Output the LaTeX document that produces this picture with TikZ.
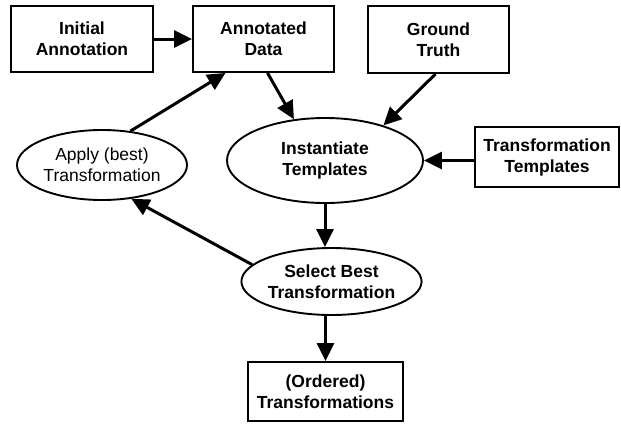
\documentclass[tikz,border=0pt]{standalone}
\usepackage{fontspec}
\setmainfont{Liberation Sans}
\usetikzlibrary{arrows.meta,shapes.geometric}
\begin{document}
\begin{tikzpicture}[x=1pt,y=-1pt,
  every node/.style={font=\fontsize{17.5}{21}\selectfont\bfseries, align=center, line width=1.9pt, inner sep=0pt},
  box/.style={draw, rectangle},
  oval/.style={draw, ellipse},
  flow/.style={line width=3pt, -{Triangle[length=18pt,width=17pt]}}]
\useasboundingbox (0,0) rectangle (621,423);

\node[box, minimum width=142pt, minimum height=66pt] (init) at (82,39) {Initial\\Annotation};
\node[box, minimum width=141pt, minimum height=66pt] (ann) at (263.5,39) {Annotated\\Data};
\node[box, minimum width=141pt, minimum height=67pt] (gt) at (438.5,39.5) {Ground\\Truth};
\node[box, minimum width=144pt, minimum height=60pt] (tt) at (547,157) {Transformation\\Templates};
\node[oval, minimum width=196pt, minimum height=85pt] (inst) at (325,160.5) {Instantiate\\Templates};
\node[oval, minimum width=170pt, minimum height=70pt, font=\fontsize{17.5}{21}\selectfont] (apply) at (102,165) {Apply (best)\\Transformation};
\node[oval, minimum width=169pt, minimum height=67pt] (sel) at (331.5,281.5) {Select Best\\Transformation};
\node[box, minimum width=155pt, minimum height=59pt] (ord) at (325.5,391.5) {(Ordered)\\Transformations};

\draw[flow] (init) -- (ann);
\draw[flow] (apply.50) -- ([xshift=-38pt]ann.south);
\draw[flow] ([xshift=4pt]ann.south) -- (inst.127);
\draw[flow] ([xshift=-3pt]gt.south) -- (inst.31);
\draw[flow] (inst.east -| tt.west) -- (inst.east);
\draw[flow] (inst) -- (inst |- sel.north);
\draw[flow] (sel.168) -- (apply.311);
\draw[flow] (sel.south -| ord) -- (ord);
\end{tikzpicture}
\end{document}
